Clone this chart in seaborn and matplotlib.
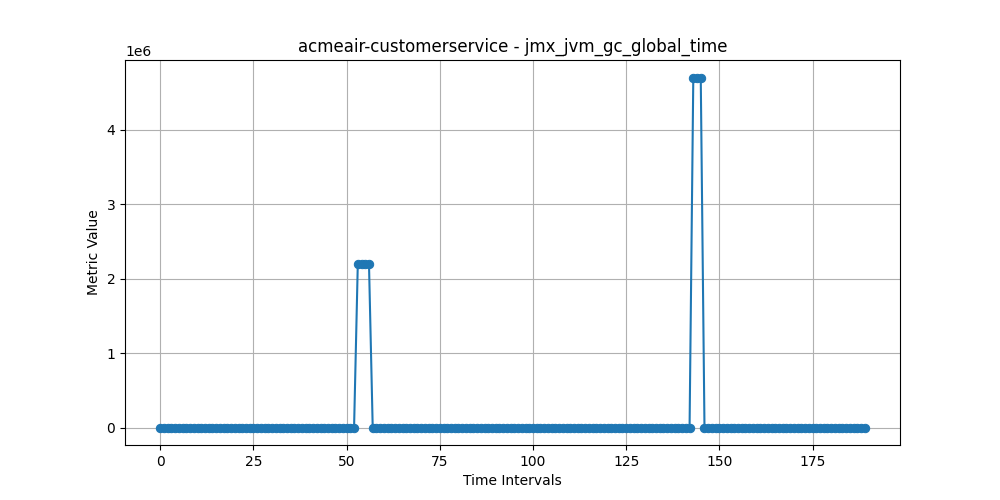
import matplotlib
matplotlib.use("Agg")
import matplotlib.pyplot as plt
import seaborn as sns
import numpy as np
import pandas as pd

n_points = 190
spike1_idx = [53, 54, 55, 56]
spike1_val = 2.2e6
spike2_idx = [143, 144, 145]
spike2_val = 4.7e6

values = [0.0] * n_points
for i in spike1_idx:
    values[i] = spike1_val
for i in spike2_idx:
    values[i] = spike2_val

df = pd.DataFrame({"t": list(range(n_points)), "v": values})

fig, ax = plt.subplots(figsize=(10, 5), dpi=100)
sns.lineplot(data=df, x="t", y="v", ax=ax, marker="o", color="#1f77b4",
             markeredgecolor="#1f77b4", markersize=6, linewidth=1.5)
ax.set_title("acmeair-customerservice - jmx_jvm_gc_global_time")
ax.set_xlabel("Time Intervals")
ax.set_ylabel("Metric Value")
ax.grid(True)
fig.savefig("out.png", dpi=100)
